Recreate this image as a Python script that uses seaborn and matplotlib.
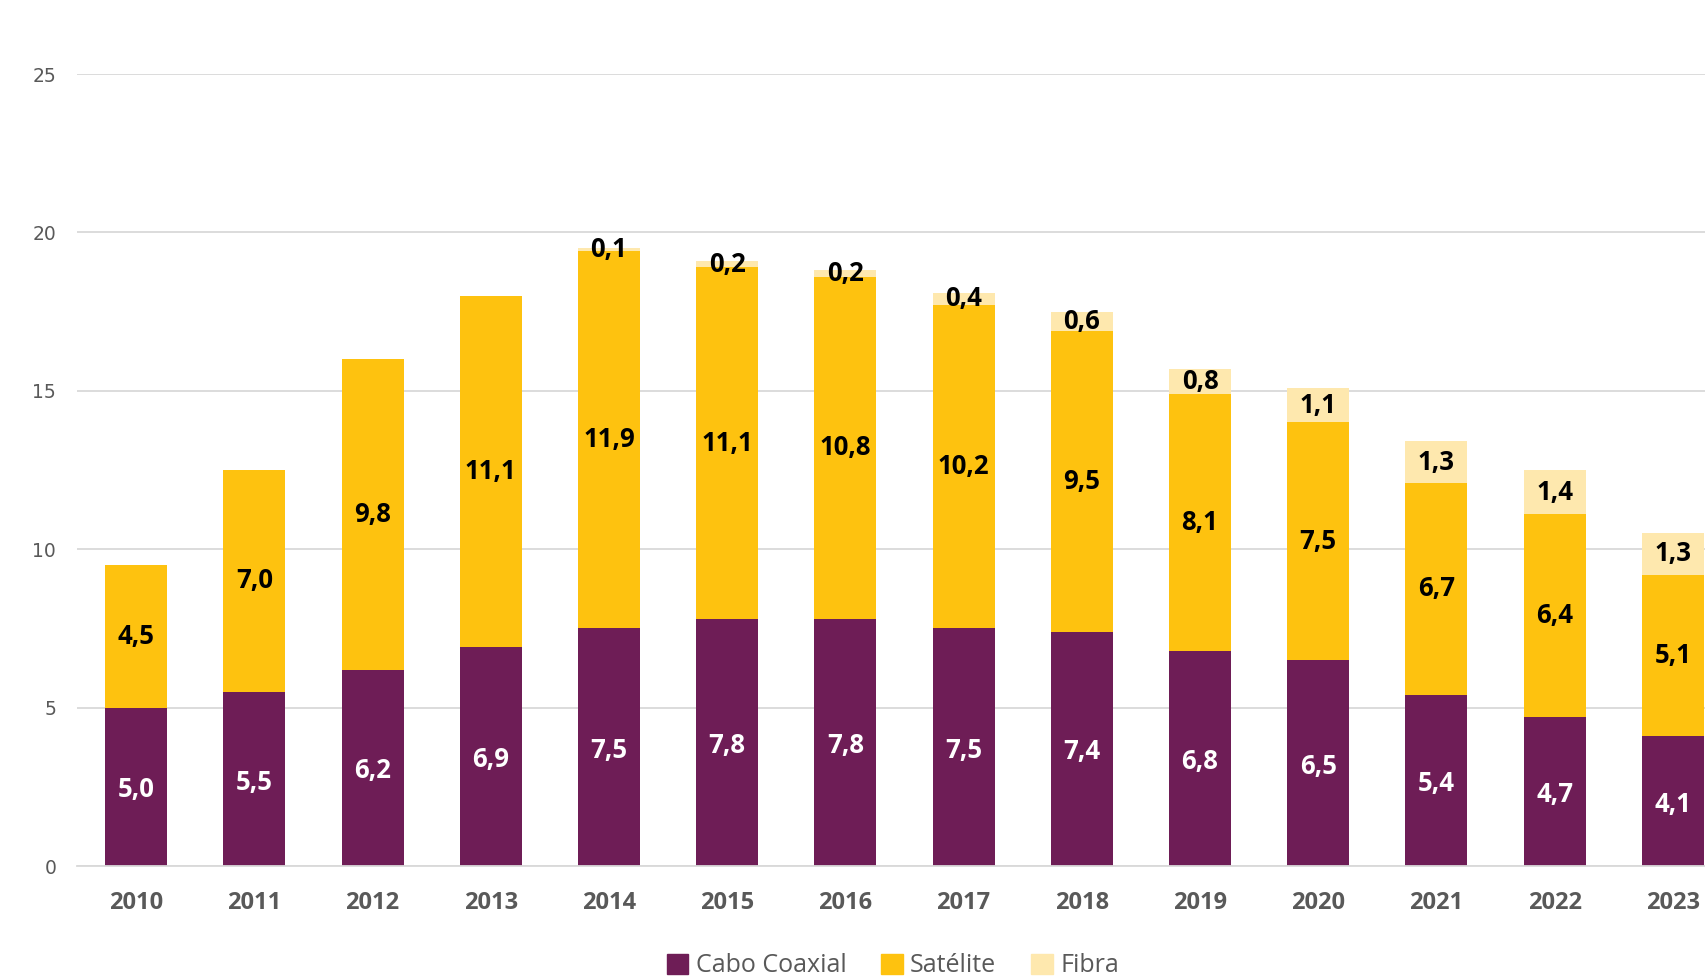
import pandas as pd
import numpy as np
import matplotlib.pyplot as plt
import seaborn as sns

sns.set_style('white')
plt.rcParams['font.family'] = ['Open Sans', 'DejaVu Sans']

anos = ['2010', '2011', '2012', '2013', '2014', '2015', '2016',
        '2017', '2018', '2019', '2020', '2021', '2022', '2023']
cabo = [5.0, 5.5, 6.2, 6.9, 7.5, 7.8, 7.8, 7.5, 7.4, 6.8, 6.5, 5.4, 4.7, 4.1]
satelite = [4.5, 7.0, 9.8, 11.1, 11.9, 11.1, 10.8, 10.2, 9.5, 8.1, 7.5, 6.7, 6.4, 5.1]
fibra = [0, 0, 0, 0, 0.1, 0.2, 0.2, 0.4, 0.6, 0.8, 1.1, 1.3, 1.4, 1.3]

c_cabo = '#6E1D56'
c_sat = '#FEC20F'
c_fib = '#FEE8AE'

df = pd.DataFrame({'ano': anos, 'cabo': cabo, 'sat': satelite, 'fib': fibra})
df['cs'] = df['cabo'] + df['sat']
df['total'] = df['cs'] + df['fib']

fig = plt.figure(figsize=(17.06, 9.77), dpi=100)
ax = fig.add_axes([77 / 1706, 111 / 977, 1655 / 1706, 792 / 977])

# stacked bars: draw cumulative totals from back to front
bar_kw = dict(width=0.525, saturation=1, linewidth=0, ax=ax)
sns.barplot(data=df, x='ano', y='total', color=c_fib, **bar_kw)
sns.barplot(data=df, x='ano', y='cs', color=c_sat, **bar_kw)
sns.barplot(data=df, x='ano', y='cabo', color=c_cabo, **bar_kw)

lab_kw = dict(ha='center', va='center', fontsize=18.5, fontweight='bold')
for i, r in df.iterrows():
    ax.text(i, r['cabo'] / 2 - 0.1, f"{r['cabo']:.1f}".replace('.', ','), color='white', **lab_kw)
    ax.text(i, r['cabo'] + r['sat'] / 2, f"{r['sat']:.1f}".replace('.', ','), color='black', **lab_kw)
    if r['fib'] > 0:
        ax.text(i, r['cs'] + r['fib'] / 2, f"{r['fib']:.1f}".replace('.', ','), color='black', **lab_kw)

ax.set_ylim(0, 25)
ax.set_xlim(-0.5, len(anos) - 0.5)
ax.set_yticks([0, 5, 10, 15, 20, 25])
ax.yaxis.grid(True, color='#D9D9D9', linewidth=1.3)
ax.set_axisbelow(True)
for s in ['top', 'right', 'left']:
    ax.spines[s].set_visible(False)
ax.spines['bottom'].set_color('#D9D9D9')
ax.spines['bottom'].set_linewidth(1.3)
ax.set_xlabel('')
ax.set_ylabel('')
ax.tick_params(axis='y', length=0, pad=15, labelsize=13.5, labelcolor='#595959')
ax.tick_params(axis='x', length=0, pad=18, labelsize=17, labelcolor='#595959')
for t in ax.get_yticklabels():
    t.set_family('DejaVu Sans')
for t in ax.get_xticklabels():
    t.set_fontweight('bold')

handles = [plt.Rectangle((0, 0), 1, 1, color=c) for c in [c_cabo, c_sat, c_fib]]
leg = ax.legend(handles, ['Cabo Coaxial', 'Satélite', 'Fibra'], loc='center',
                bbox_to_anchor=(0.493, -0.126), ncol=3, frameon=False, fontsize=18,
                handlelength=0.85, handleheight=0.85, handletextpad=0.3,
                columnspacing=1.4, borderpad=0)
for t in leg.get_texts():
    t.set_color('#595959')

fig.savefig('out.png', dpi=100)
